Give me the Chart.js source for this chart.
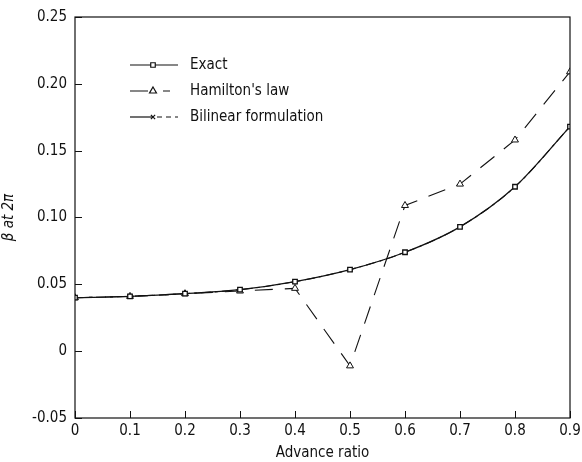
<!DOCTYPE html>
<html>
<head>
<meta charset="utf-8">
<script src="https://cdn.jsdelivr.net/npm/chart.js@4/dist/chart.umd.min.js"></script>
<style>
html,body{margin:0;padding:0;background:#fff;}
#wrap{width:582px;height:462px;position:relative;}
</style>
</head>
<body>
<div id="wrap"><canvas id="c" width="582" height="462"></canvas></div>
<script>
const advanceRatio = [0, 0.1, 0.2, 0.3, 0.4, 0.5, 0.6, 0.7, 0.8, 0.9];
const exactValues = [0.040, 0.041, 0.043, 0.046, 0.052, 0.061, 0.074, 0.093, 0.123, 0.168];
const hamiltonValues = [0.040, 0.041, 0.043, 0.045, 0.047, -0.011, 0.109, 0.125, 0.158, 0.209];
const bilinearValues = [0.040, 0.041, 0.043, 0.046, 0.052, 0.061, 0.074, 0.093, 0.123, 0.168];
const xTickValues = [0, 0.1, 0.2, 0.3, 0.4, 0.5, 0.6, 0.7, 0.8, 0.9];
const xTickLabels = ['0', '0.1', '0.2', '0.3', '0.4', '0.5', '0.6', '0.7', '0.8', '0.9'];
const yTickValues = [-0.05, 0, 0.05, 0.10, 0.15, 0.20, 0.25];
const yTickLabels = ['-0.05', '0', '0.05', '0.10', '0.15', '0.20', '0.25'];
const seriesNames = ['Exact', "Hamilton's law", 'Bilinear formulation'];

const FONT = '"Liberation Sans Narrow", "DejaVu Sans Condensed", "Roboto Condensed", sans-serif';
const INK = '#111';

function pts(vals){ return advanceRatio.map((x,i)=>({x:x,y:vals[i]})); }

const frameAndTicks = {
  id:'frameAndTicks',
  afterDatasetsDraw(chart){
    const {ctx, chartArea:a, scales:{x,y}} = chart;
    ctx.save();
    ctx.strokeStyle = INK; ctx.lineWidth = 1.2; ctx.setLineDash([]);
    ctx.strokeRect(a.left, a.top, a.right-a.left, a.bottom-a.top);
    ctx.lineWidth = 1;
    xTickValues.forEach(v=>{ const px = Math.round(x.getPixelForValue(v))+0.5;
      ctx.beginPath(); ctx.moveTo(px, a.bottom); ctx.lineTo(px, a.bottom-7); ctx.stroke(); });
    yTickValues.forEach(v=>{ const py = Math.round(y.getPixelForValue(v))+0.5;
      ctx.beginPath(); ctx.moveTo(a.left, py); ctx.lineTo(a.left+7, py); ctx.stroke(); });
    // legend
    const items = chart.data.datasets;
    const x0 = a.left + 55, x1 = a.left + 103, tx = a.left + 115;
    const mx = a.left + 78;
    [0,1,2].forEach(i=>{
      const ds = items[i];
      const yy = a.top + 48 + i*26;
      ctx.strokeStyle = INK; ctx.lineWidth = 1.2;
      if (i === 0) {
        ctx.setLineDash([]);
        ctx.beginPath(); ctx.moveTo(x0, yy); ctx.lineTo(x1, yy); ctx.stroke();
      } else if (i === 1) {
        ctx.setLineDash([]);
        ctx.beginPath(); ctx.moveTo(x0, yy); ctx.lineTo(mx - 5, yy); ctx.moveTo(mx + 10, yy); ctx.lineTo(x1 - 8, yy); ctx.stroke();
      } else {
        ctx.setLineDash([]);
        ctx.beginPath(); ctx.moveTo(x0, yy); ctx.lineTo(mx, yy); ctx.stroke();
        ctx.setLineDash([5,4]);
        ctx.beginPath(); ctx.moveTo(mx + 4, yy); ctx.lineTo(x1, yy); ctx.stroke();
      }
      ctx.setLineDash([]);
      ctx.fillStyle = '#fff'; ctx.strokeStyle = INK; ctx.lineWidth = 1.2;
      Chart.helpers.drawPoint(ctx, {pointStyle: ds.pointStyle, radius: ds.pointRadius, rotation:0, borderWidth:1.2}, mx, yy);
      ctx.fillStyle = INK; ctx.font = '15px ' + FONT; ctx.textBaseline = 'middle'; ctx.textAlign='left';
      ctx.fillText(seriesNames[i], tx, yy);
    });
    ctx.restore();
  }
};

new Chart(document.getElementById('c'), {
  type:'line',
  data:{
    datasets:[
      {label:seriesNames[0], data:pts(exactValues), borderColor:INK, backgroundColor:'#fff', borderWidth:1.3,
       pointStyle:'rect', pointRadius:3.2, pointBorderColor:INK, pointBackgroundColor:'#fff', pointBorderWidth:1.3, cubicInterpolationMode:'monotone', order:1},
      {label:seriesNames[1], data:pts(hamiltonValues), borderColor:INK, backgroundColor:'#fff', borderWidth:1.1, borderDash:[18,12],
       pointStyle:'triangle', pointRadius:4, pointBorderColor:INK, pointBackgroundColor:'#fff', pointBorderWidth:1, tension:0, order:2},
      {label:seriesNames[2], data:pts(bilinearValues), borderColor:INK, backgroundColor:'#fff', borderWidth:1.1, borderDash:[10,4,3,4],
       pointStyle:'crossRot', pointRadius:3, pointBorderColor:INK, pointBackgroundColor:'#fff', pointBorderWidth:1.2, cubicInterpolationMode:'monotone', order:3}
    ]
  },
  options:{
    responsive:false, animation:false,
    layout:{padding:{top:17, right:12, left:0, bottom:0}},
    plugins:{legend:{display:false}, tooltip:{enabled:false}},
    scales:{
      x:{type:'linear', min:0, max:0.9,
        afterBuildTicks(s){ s.ticks = xTickValues.map(v=>({value:v})); },
        afterFit(s){ s.height = 44; s.paddingRight = 0; s.paddingLeft = 0; },
        grid:{display:false, drawTicks:false}, border:{display:false},
        ticks:{color:INK, font:{family:FONT, size:15}, padding:4, maxRotation:0,
          callback(v){ const i = xTickValues.findIndex(t=>Math.abs(t-v)<1e-9); return i>=0 ? xTickLabels[i] : ''; }},
        title:{display:true, text:'Advance ratio', color:INK, font:{family:FONT, size:15}, padding:{top:0,bottom:0}}
      },
      y:{type:'linear', min:-0.05, max:0.25,
        afterBuildTicks(s){ s.ticks = yTickValues.map(v=>({value:v})); },
        afterFit(s){ s.width = 75; },
        grid:{display:false, drawTicks:false}, border:{display:false},
        ticks:{color:INK, font:{family:FONT, size:15}, padding:8,
          callback(v){ const i = yTickValues.findIndex(t=>Math.abs(t-v)<1e-9); return i>=0 ? yTickLabels[i] : ''; }},
        title:{display:true, text:'β at 2π', color:INK, font:{family:FONT, size:15, style:'italic'}, padding:{top:0,bottom:6}}
      }
    }
  },
  plugins:[frameAndTicks]
});
</script>
</body>
</html>
